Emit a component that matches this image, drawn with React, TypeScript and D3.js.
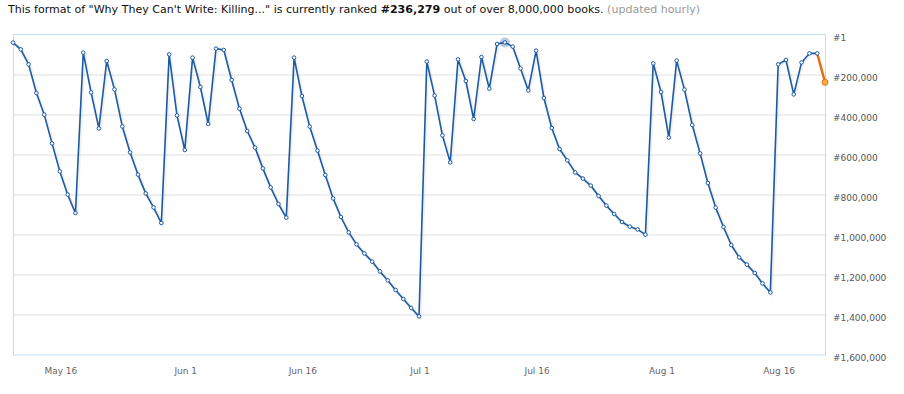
import React, { useRef, useEffect } from 'react';
import * as d3 from 'd3';

// daily sales rank, first point on May 10
const startDate = new Date(2015, 4, 10);
const ranks = [
  38000, 72000, 147000, 290000, 398000, 542000, 682000, 798000, 890000, 88000,
  287000, 467000, 130000, 272000, 457000, 587000, 698000, 792000, 862000, 940000,
  97000, 402000, 575000, 113000, 260000, 445000, 68000, 75000, 225000, 368000,
  480000, 563000, 667000, 762000, 845000, 913000, 113000, 305000, 458000, 578000,
  700000, 817000, 910000, 987000, 1047000, 1092000, 1133000, 1182000, 1227000, 1275000,
  1320000, 1365000, 1407000, 133000, 303000, 502000, 637000, 122000, 230000, 420000,
  110000, 268000, 45000, 37000, 58000, 167000, 277000, 78000, 315000, 465000,
  570000, 627000, 687000, 718000, 753000, 805000, 853000, 895000, 935000, 958000,
  972000, 998000, 142000, 285000, 513000, 128000, 273000, 450000, 592000, 740000,
  863000, 960000, 1050000, 1112000, 1148000, 1190000, 1242000, 1287000, 147000, 125000,
  297000, 137000, 92000, 92000, 236279,
];
const highlightIndex = 63;

const yTicks = [1, 200000, 400000, 600000, 800000, 1000000, 1200000, 1400000, 1600000];
const xTicks = [
  new Date(2015, 4, 16), new Date(2015, 5, 1), new Date(2015, 5, 16), new Date(2015, 6, 1),
  new Date(2015, 6, 16), new Date(2015, 7, 1), new Date(2015, 7, 16),
];

const App = () => {
  const svgRef = useRef(null);

  useEffect(() => {
    if (!svgRef.current) return;
    const svg = d3.select(svgRef.current);
    svg.selectAll('*').remove();

    const width = 904;
    const height = 394;
    const plot = { left: 13, right: 825, top: 35, bottom: 355 };
    const font = "'DejaVu Sans', Verdana, sans-serif";

    const data = ranks.map((r, i) => ({ date: d3.timeDay.offset(startDate, i), rank: r }));

    const x = d3.scaleTime()
      .domain(d3.extent(data, d => d.date))
      .range([plot.left, plot.right]);
    const y = d3.scaleLinear()
      .domain([0, 1600000])
      .range([plot.top, plot.bottom]);

    svg.attr('width', width).attr('height', height);

    // title
    const title = svg.append('text')
      .attr('x', 8)
      .attr('y', 13)
      .attr('font-family', font)
      .attr('font-size', 11.05)
      .attr('fill', '#111');
    title.append('tspan').text('This format of "Why They Can\'t Write: Killing..." is currently ranked ');
    title.append('tspan').attr('font-weight', 'bold').text('#236,279');
    title.append('tspan').text(' out of over 8,000,000 books. ');
    title.append('tspan').attr('fill', '#999').text('(updated hourly)');

    // grid lines
    svg.append('g')
      .selectAll('line')
      .data(yTicks.slice(1, -1))
      .enter()
      .append('line')
      .attr('x1', plot.left)
      .attr('x2', plot.right)
      .attr('y1', d => y(d))
      .attr('y2', d => y(d))
      .attr('stroke', '#efefef')
      .attr('stroke-width', 2);

    // plot border
    svg.append('rect')
      .attr('x', plot.left + 0.5)
      .attr('y', plot.top - 0.5)
      .attr('width', plot.right - plot.left)
      .attr('height', plot.bottom - plot.top + 0.5)
      .attr('fill', 'none')
      .attr('stroke', '#c5dcee');

    // y labels on the right
    svg.append('g')
      .selectAll('text')
      .data(yTicks)
      .enter()
      .append('text')
      .attr('x', 833)
      .attr('y', d => y(d) + 5.5)
      .attr('font-family', font)
      .attr('font-size', 9)
      .attr('fill', '#555')
      .text(d => '#' + d3.format(',')(d));

    // x labels
    svg.append('g')
      .selectAll('text')
      .data(xTicks)
      .enter()
      .append('text')
      .attr('x', d => x(d) + 1)
      .attr('y', 374)
      .attr('text-anchor', 'middle')
      .attr('font-family', font)
      .attr('font-size', 9)
      .attr('fill', '#666')
      .text(d => d3.timeFormat('%b %-d')(d));

    const line = d3.line()
      .x(d => x(d.date))
      .y(d => y(d.rank));

    const main = data.slice(0, -1);
    const last = data.slice(-2);

    // soft shadow under the line
    svg.append('path')
      .datum(main)
      .attr('d', line)
      .attr('fill', 'none')
      .attr('stroke', 'rgba(0,0,0,0.05)')
      .attr('stroke-width', 3.5)
      .attr('transform', 'translate(1,1)');

    svg.append('path')
      .datum(main)
      .attr('d', line)
      .attr('fill', 'none')
      .attr('stroke', '#1c5aa3')
      .attr('stroke-width', 1.6)
      .attr('stroke-linejoin', 'round');

    svg.append('path')
      .datum(last)
      .attr('d', line)
      .attr('fill', 'none')
      .attr('stroke', '#e5700f')
      .attr('stroke-width', 2.5);

    // hover highlight
    svg.append('circle')
      .attr('cx', x(data[highlightIndex].date))
      .attr('cy', y(data[highlightIndex].rank))
      .attr('r', 5)
      .attr('fill', '#1c5aa3')
      .attr('fill-opacity', 0.3);

    // markers
    svg.append('g')
      .selectAll('circle')
      .data(main)
      .enter()
      .append('circle')
      .attr('cx', d => x(d.date))
      .attr('cy', d => y(d.rank))
      .attr('r', 1.8)
      .attr('fill', '#fff')
      .attr('stroke', '#1c5aa3')
      .attr('stroke-width', 1);

    const end = data[data.length - 1];
    svg.append('circle')
      .attr('cx', x(end.date))
      .attr('cy', y(end.rank))
      .attr('r', 3)
      .attr('fill', '#f7b042')
      .attr('stroke', '#e5700f')
      .attr('stroke-width', 1);
  }, []);

  return (
    <div style={{ position: 'absolute', left: 0, top: 0 }}>
      <svg ref={svgRef} style={{ display: 'block' }}></svg>
    </div>
  );
};

export default App;
